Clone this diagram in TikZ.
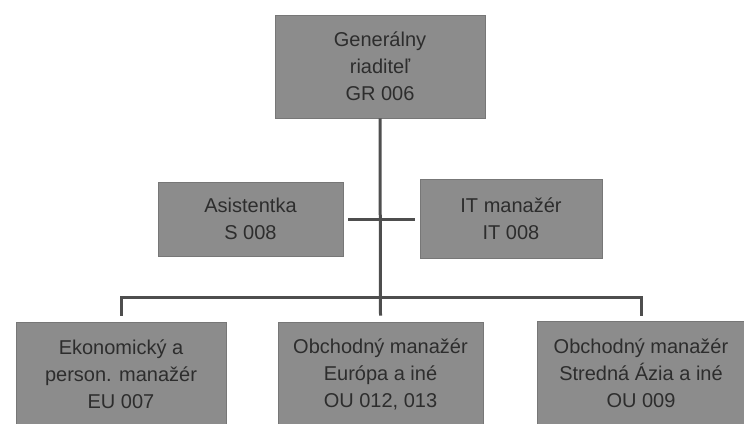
\documentclass[tikz,border=0pt]{standalone}
\usepackage{fontspec}
\setmainfont{Liberation Sans}
\usepackage{tikz}
\usetikzlibrary{calc}
\definecolor{boxgray}{RGB}{140,140,140}
\definecolor{linegray}{RGB}{78,78,78}
\definecolor{textgray}{RGB}{45,45,45}

\begin{document}
\begin{tikzpicture}[x=1pt,y=-1pt,
  unit/.style={rectangle,fill=boxgray,draw=boxgray!85!black,line width=0.6pt,align=center,text=textgray,
    font=\fontsize{20}{27}\selectfont,inner sep=0pt},
  link/.style={draw=linegray,line width=3pt}]
                      \useasboundingbox(0,0)rectangle(744,423);
                      \node[unit,minimum width=210,minimum height=103](gr)at(380,66.5){Generálny\\riaditeľ\\GR 006};
                      \node[unit,minimum width=185,minimum height=74](as)at(250.5,219){Asistentka\\S 008};
                      \node[unit,minimum width=182,minimum height=79](it)at(511,219){IT manažér\\IT 008};
                      \node[unit,minimum width=210,minimum height=104](eu)at(121,374){Ekonomický a\\person. manažér\\EU 007};
                      \node[unit,minimum width=205,minimum height=104](oe)at(380.5,374){Obchodný manažér\\Európa a iné\\OU 012, 013};
                      \node[unit,minimum width=208,minimum height=104](oa)at(641,373){Obchodný manažér\\Stredná Ázia a iné\\OU 009};
                      \coordinate(bus)at(381,297);
                      \draw[link](gr.south)--([yshift=6pt]oe.north);
                      \draw[link]([xshift=5pt]as.east)--([xshift=-5pt]it.west);
                      \draw[link]([yshift=6pt]eu.north)|-(bus)-|([yshift=5pt]oa.north);
                  \end{tikzpicture}
\end{document}
